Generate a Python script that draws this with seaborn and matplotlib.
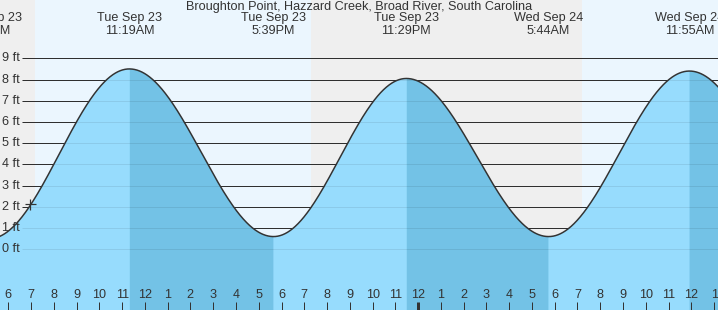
import numpy as np
import pandas as pd
import matplotlib
matplotlib.use("Agg")
import matplotlib.pyplot as plt
import matplotlib.transforms as mtransforms
import seaborn as sns

# ---- data (hours from Tue Sep 23 00:00) ----
title = "Broughton Point, Hazzard Creek, Broad River, South Carolina"
extreme_hours = [5 + 10/60, 11 + 19/60, 17 + 39/60, 23 + 29/60, 29 + 44/60, 35 + 55/60, 42 + 8/60]
extreme_heights = [0.5, 8.5, 0.6, 8.05, 0.6, 8.4, 0.8]
extreme_days = ["Tue Sep 23", "Tue Sep 23", "Tue Sep 23", "Tue Sep 23", "Wed Sep 24", "Wed Sep 24", "Wed Sep 24"]
extreme_times = ["5:10AM", "11:19AM", "5:39PM", "11:29PM", "5:44AM", "11:55AM", "6:08PM"]
sun_hours = [7 + 10/60, 19 + 17/60, 31 + 11/60]   # sunrise, sunset, sunrise
now_hour, now_height = 6 + 57/60, 2.15
ft_levels = [0, 1, 2, 3, 4, 5, 6, 7, 8, 9]
hour_ticks = list(range(6, 38))
hour_labels = [str((h - 1) % 12 + 1) for h in hour_ticks]

# ---- layout ----
W, H = 718, 310
px_per_hr = 22.767
x0 = 6 - 8.3 / px_per_hr
x1 = x0 + W / px_per_hr
px_per_ft = 21.22
y0 = (249.3 - H) / px_per_ft
y1 = 249.3 / px_per_ft
PT = 0.72

# curve (cosine between successive highs/lows)
t = np.linspace(x0 - 0.2, x1 + 0.2, 1500)
idx = np.clip(np.searchsorted(extreme_hours, t) - 1, 0, len(extreme_hours) - 2)
ta = np.array(extreme_hours)[idx]; tb = np.array(extreme_hours)[idx + 1]
ha = np.array(extreme_heights)[idx]; hb = np.array(extreme_heights)[idx + 1]
h = ha + (hb - ha) * (1 - np.cos(np.pi * (t - ta) / (tb - ta))) / 2
falling = hb < ha
df = pd.DataFrame({"hour": t, "height": h})

plt.rcParams["font.family"] = ["Liberation Sans", "DejaVu Sans"]
fig = plt.figure(figsize=(W / 100, H / 100), dpi=100)
ax = fig.add_axes([0, 0, 1, 1])
ax.set_xlim(x0, x1)
ax.set_ylim(y0, y1)
ax.axis("off")

night = "#efefef"
day = "#ebf6fe"
edges = [x0 - 1] + sun_hours + [x1 + 1]
for i in range(len(edges) - 1):
    ax.axvspan(edges[i], edges[i + 1], color=night if i % 2 == 0 else day, lw=0, zorder=0)

gx0 = x0 + 22 / px_per_hr
ax.hlines(ft_levels, gx0, x1 + 1, color="#333333", lw=1 * PT, zorder=1)

light = "#97dcfd"
dark = "#73c2e6"
ax.fill_between(t, y0 - 1, h, color=light, lw=0, zorder=2)
ax.fill_between(t, y0 - 1, h, where=falling, color=dark, lw=0, zorder=2.1, interpolate=False)
ax.hlines(ft_levels, gx0, x1 + 1, color="#000000", alpha=0.08, lw=1 * PT, zorder=2.5)

sns.lineplot(data=df, x="hour", y="height", ax=ax, color="#333333", lw=1.5 * PT, zorder=3)
ax.set_xlim(x0, x1)
ax.set_ylim(y0, y1)
ax.axis("off")

txt = "#333333"
fs = 12.6 * PT
for lv in ft_levels:
    ax.text(x0 + 2.5 / px_per_hr, lv, f"{lv} ft", ha="left", va="center", fontsize=fs, color=txt, zorder=4)

trans = mtransforms.blended_transform_factory(ax.transData, ax.transAxes)
for hr, lab in zip(hour_ticks, hour_labels):
    ax.text(hr, 1 - 295.5 / H, lab, ha="center", va="center", fontsize=fs, color=txt, transform=trans, zorder=4)
    ax.vlines(hr, 0, 8.5 / H, color="#333333", lw=(3 if hr % 24 == 0 else 1) * PT, transform=trans, zorder=4)

ax.text(0.5, 1 - 7 / H, title, ha="center", va="center", fontsize=fs, color=txt, transform=ax.transAxes, zorder=4)
for hr, dlab, tlab in zip(extreme_hours, extreme_days, extreme_times):
    ax.text(hr, 1 - 18.5 / H, dlab, ha="center", va="center", fontsize=fs, color=txt, transform=trans, zorder=4)
    ax.text(hr, 1 - 31.5 / H, tlab, ha="center", va="center", fontsize=fs, color=txt, transform=trans, zorder=4)

ax.plot([now_hour], [now_height], marker="+", ms=11 * PT, mew=1.2 * PT, color="#333333", zorder=5)

fig.savefig("out.png", dpi=100)
